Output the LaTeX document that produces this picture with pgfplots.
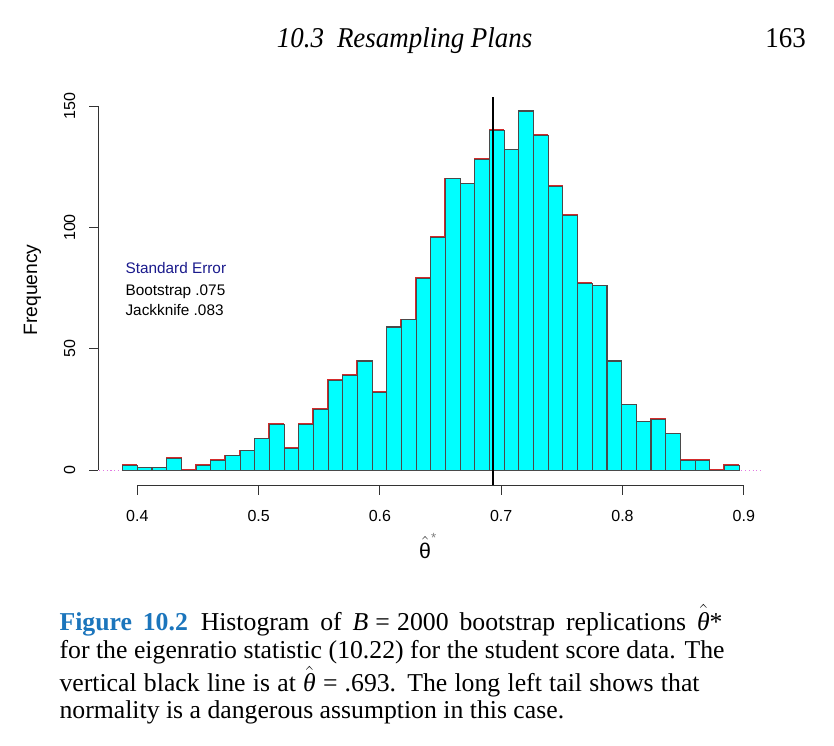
\documentclass[border=0pt]{standalone}
\usepackage{pgfplots}
\pgfplotsset{compat=1.18}
\usepackage{pgfplotstable}
\usepackage{fontspec}
\setmainfont{Liberation Serif}
\newfontfamily\rfont{Liberation Sans}
\newfontfamily\capfont{Liberation Serif}
\newfontfamily\hdfont[FakeStretch=0.94]{Liberation Serif}
\definecolor{rcyan}{HTML}{00FFFF}
\definecolor{rgrayb}{HTML}{4A4A4A}
\definecolor{rred}{HTML}{D42A2A}
\definecolor{rblue}{HTML}{1A1A8C}
\definecolor{figblue}{HTML}{1B75BC}
\definecolor{rpink}{HTML}{E27AE2}

% bin left edges and counts (B = 2000 bootstrap replications)
\pgfplotstableread{
x count
0.3879 2
0.4000 1
0.4121 1
0.4242 5
0.4363 0
0.4484 2
0.4605 4
0.4726 6
0.4847 8
0.4968 13
0.5089 19
0.5210 9
0.5331 19
0.5452 25
0.5573 37
0.5694 39
0.5815 45
0.5936 32
0.6057 59
0.6178 62
0.6299 79
0.6420 96
0.6541 120
0.6662 118
0.6783 128
0.6904 140
0.7025 132
0.7146 148
0.7267 138
0.7388 117
0.7509 105
0.7630 77
0.7751 76
0.7872 45
0.7993 27
0.8114 20
0.8235 21
0.8356 15
0.8477 4
0.8598 4
0.8719 0
0.8840 2
0.8961 0
}\histdata

\begin{document}
\begin{tikzpicture}
\path[use as bounding box] (0,0) rectangle (625.5pt,-558.75pt);
\begin{axis}[
  at={(73.725pt,-364.125pt)}, anchor=south west,
  scale only axis, width=502.4pt, height=292.9pt,
  xmin=0.3678, xmax=0.9201, ymin=-6.3, ymax=154.6,
  axis line style={draw=none},
  clip=false,
  xtick={0.4,0.5,0.6,0.7,0.8,0.9},
  xticklabels={0.4,0.5,0.6,0.7,0.8,0.9},
  ytick={0,50,100,150},
  yticklabels={0,50,100,150},
  xtick pos=bottom, ytick pos=left,
  tick align=outside,
  major tick length=6.75pt,
  tick style={black!80, line width=0.7pt},
  xticklabel style={font=\rfont\fontsize{12}{14}\selectfont, yshift=-8pt},
  yticklabel style={font=\rfont\fontsize{12}{14}\selectfont, rotate=90, anchor=south, yshift=7pt},
]
% baseline dotted line
\addplot[rpink, dotted, line width=0.8pt, forget plot] coordinates {(0.3686,0) (0.9157,0)};
% red outline of histogram
\addplot[rred, line width=0.9pt, const plot, forget plot, xshift=-0.35pt, yshift=0.35pt] coordinates {
(0.3879,0) (0.3879,2) (0.4000,1) (0.4121,1) (0.4242,5) (0.4363,0) (0.4484,2)
(0.4605,4) (0.4726,6) (0.4847,8) (0.4968,13) (0.5089,19) (0.5210,9) (0.5331,19)
(0.5452,25) (0.5573,37) (0.5694,39) (0.5815,45) (0.5936,32) (0.6057,59) (0.6178,62)
(0.6299,79) (0.6420,96) (0.6541,120) (0.6662,118) (0.6783,128) (0.6904,140) (0.7025,132)
(0.7146,148) (0.7267,138) (0.7388,117) (0.7509,105) (0.7630,77) (0.7751,76) (0.7872,45)
(0.7993,27) (0.8114,20) (0.8235,21) (0.8356,15) (0.8477,4) (0.8598,4) (0.8719,0)
(0.8840,2) (0.8961,0)};
% histogram bars
\addplot[ybar interval, fill=rcyan, draw=rgrayb, line width=0.8pt] table[x=x, y=count] {\histdata};
% vertical line at theta hat = .693
\addplot[black, line width=1.6pt] coordinates {(0.693,-6.3) (0.693,153.8)};
% R-style axis lines
\draw[black!80, line width=0.7pt] (axis cs:0.4,-6.3) -- (axis cs:0.9,-6.3);
\draw[black!80, line width=0.7pt] (axis cs:0.3678,0) -- (axis cs:0.3678,150);
\end{axis}
\begin{scope}[x=0.75pt, y=-0.75pt]
  % running header
  \node[anchor=base west, inner sep=0pt] at (276.7,47.3) {\hdfont\fontsize{21.5}{24}\selectfont\itshape 10.3\hspace{0.45em}Resampling Plans};
  \node[anchor=base east, inner sep=0pt] at (806,47.3) {\hdfont\fontsize{21.5}{24}\selectfont 163};
  % annotations inside the plot
  \node[anchor=west, inner sep=0pt, text=rblue] at (125.3,267.7) {\rfont\fontsize{11.5}{13}\selectfont Standard Error};
  \node[anchor=west, inner sep=0pt] at (125.3,291.7) {\rfont\fontsize{11.5}{13}\selectfont Bootstrap .075};
  \node[anchor=west, inner sep=0pt] at (125.3,310) {\rfont\fontsize{11.5}{13}\selectfont Jackknife .083};
  % axis titles
  \node[rotate=90, inner sep=0pt] at (32.5,290) {\rfont\fontsize{14.5}{16}\selectfont Frequency};
  \node[inner sep=0pt] at (428,546) {\fontsize{16}{18}\selectfont $\hat{\hbox{\rfont\fontsize{16}{18}\selectfont θ}}^{\hbox{\rfont\fontsize{10}{12}\selectfont\textcolor{gray}{*}}}$};
  % caption
  \begin{scope}[every node/.style={anchor=base west, inner sep=0pt}]
  \node at (59.3,630) {\capfont\fontsize{19.3}{22}\selectfont\makebox[497.25pt][s]{\textcolor{figblue}{\bfseries Figure 10.2}\hspace{0.5em}Histogram of \textit{B}\hspace{0.28em}=\hspace{0.28em}2000 bootstrap replications $\hat{\hbox{\capfont\fontsize{19.3}{22}\selectfont\itshape θ}}$*}};
  \node at (59.3,658.3) {\capfont\fontsize{19.3}{22}\selectfont\makebox[498.75pt][s]{for the eigenratio statistic (10.22) for the student score data. The}};
  \node at (59.3,691.7) {\capfont\fontsize{19.3}{22}\selectfont\makebox[480pt][s]{vertical black line is at $\hat{\hbox{\capfont\fontsize{19.3}{22}\selectfont\itshape θ}}$\hspace{0.28em}=\hspace{0.28em}.693. The long left tail shows that}};
  \node at (59.3,718.3) {\capfont\fontsize{19.3}{22}\selectfont normality is a dangerous assumption in this case.};
  \end{scope}
\end{scope}
\end{tikzpicture}
\end{document}
